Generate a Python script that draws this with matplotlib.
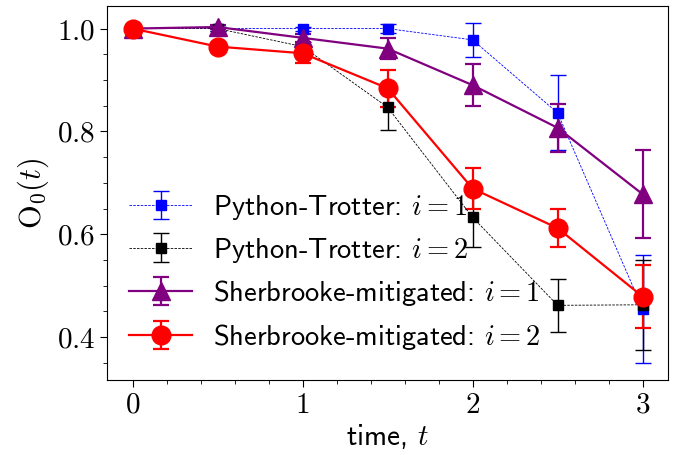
import matplotlib
matplotlib.use("Agg")
import matplotlib.pyplot as plt
from matplotlib.ticker import MultipleLocator, FormatStrFormatter

plt.rcParams['font.family'] = ['cmss10', 'DejaVu Sans']
plt.rcParams['mathtext.fontset'] = 'cm'
plt.rcParams['axes.unicode_minus'] = False

t = [0, 0.5, 1, 1.5, 2, 2.5, 3]

# python trotter runs
py1 = [1.0, 1.0, 1.0, 1.0, 0.978, 0.836, 0.455]
py1_err = [0.004, 0.004, 0.004, 0.008, 0.033, 0.073, 0.105]
py2 = [1.0, 1.0, 0.965, 0.847, 0.633, 0.462, 0.463]
py2_err = [0.004, 0.004, 0.008, 0.045, 0.057, 0.052, 0.088]

# sherbrooke hardware, mitigated
sh1 = [1.0, 1.003, 0.982, 0.961, 0.89, 0.807, 0.678]
sh1_err = [0.004, 0.004, 0.008, 0.021, 0.041, 0.046, 0.086]
sh2 = [1.0, 0.965, 0.952, 0.884, 0.689, 0.612, 0.479]
sh2_err = [0.004, 0.004, 0.018, 0.036, 0.04, 0.037, 0.061]

labels = [r'Python-Trotter: $i{=}1$', r'Python-Trotter: $i{=}2$',
          r'Sherbrooke-mitigated: $i=1$', r'Sherbrooke-mitigated: $i=2$']

fig = plt.figure(figsize=(6.86, 4.55), dpi=100)
ax = fig.add_axes([0.156, 0.165, 0.818, 0.822])

ax.errorbar(t, py1, yerr=py1_err, color='blue', marker='s', ms=7,
            ls=(0, (3, 1.5)), lw=0.6, elinewidth=1.0, capsize=6, capthick=1.0,
            label=labels[0])
ax.errorbar(t, py2, yerr=py2_err, color='black', marker='s', ms=7,
            ls=(0, (3, 1.5)), lw=0.6, elinewidth=1.0, capsize=6, capthick=1.0,
            label=labels[1])
ax.errorbar(t, sh1, yerr=sh1_err, color='purple', marker='^', ms=13,
            ls='-', lw=1.6, elinewidth=1.6, capsize=6, capthick=1.6,
            label=labels[2])
ax.errorbar(t, sh2, yerr=sh2_err, color='red', marker='o', ms=13.5,
            ls='-', lw=1.6, elinewidth=1.6, capsize=6, capthick=1.6,
            label=labels[3])

ax.set_xlabel(r'time, $t$', fontsize=21, labelpad=2)
ax.set_ylabel(r'$\mathrm{O}_0(t)$', fontsize=22, labelpad=4)

ax.xaxis.set_major_locator(MultipleLocator(1))
ax.xaxis.set_minor_locator(MultipleLocator(0.2))
ax.yaxis.set_major_locator(MultipleLocator(0.2))
ax.yaxis.set_minor_locator(MultipleLocator(0.05))
ax.xaxis.set_major_formatter(FormatStrFormatter('$%d$'))
ax.yaxis.set_major_formatter(FormatStrFormatter('$%.1f$'))
ax.tick_params(which='major', length=5, labelsize=21)
ax.tick_params(which='minor', length=3)

ax.legend(loc='lower left', bbox_to_anchor=(0.04, 0.075), frameon=False,
          fontsize=20.5, handlelength=2.2, handletextpad=0.75,
          labelspacing=0.48, borderpad=0, borderaxespad=0)

fig.savefig('out.png', dpi=100)
